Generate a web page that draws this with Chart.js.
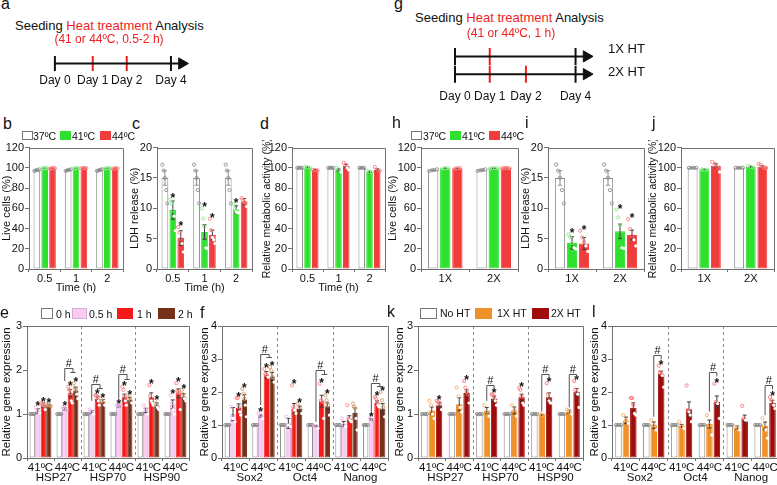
<!DOCTYPE html>
<html>
<head>
<meta charset="utf-8">
<script src="https://cdn.jsdelivr.net/npm/chart.js@4.4.1/dist/chart.umd.min.js"></script>
<style>
  html, body { margin: 0; padding: 0; background: #fff; }
  body { width: 777px; height: 485px; overflow: hidden; position: relative;
         font-family: "Liberation Sans", Arial, sans-serif; color: #111; }
  canvas, .t, .sw { position: absolute; }
  .t { white-space: nowrap; line-height: 1; }
  .sw { box-sizing: border-box; }
</style>
</head>
<body>
<canvas id="chartA"></canvas>
<canvas id="chartG"></canvas>
<canvas id="chartB"></canvas>
<canvas id="chartC"></canvas>
<canvas id="chartD"></canvas>
<canvas id="chartH"></canvas>
<canvas id="chartI"></canvas>
<canvas id="chartJ"></canvas>
<canvas id="chartE"></canvas>
<canvas id="chartF"></canvas>
<canvas id="chartK"></canvas>
<canvas id="chartL"></canvas>
<script>
// ---------------- data ----------------
const timeLabels = ['0.5', '1', '2'];
const htLabels = ['1X', '2X'];
const tempNames = ['37ºC', '41ºC', '44ºC'];
const durationNames = ['0 h', '0.5 h', '1 h', '2 h'];
const htNames = ['No HT', '1X HT', '2X HT'];
const tempTicks = ['41ºC', '44ºC', '41ºC', '44ºC', '41ºC', '44ºC'];
const hspGenes = ['HSP27', 'HSP70', 'HSP90'];
const stemGenes = ['Sox2', 'Oct4', 'Nanog'];

// schematics (a, g): day marks along the time line, drawing units
const dayLabels = ['Day 0', 'Day 1', 'Day 2', 'Day 4'];
const heatDay = [0, 1, 1, 0];
const dayPosA = [0, 1, 1.9, 3.07];
const dayPosG = [0, 0.98, 2.0, 3.4];
const daysOnce = [0, 1, 3];
const daysTwice = [0, 1, 2, 3];

// b: live cells (%), per temperature, at 0.5 / 1 / 2 h
const liveT = [[97.5, 97.8, 97.6], [99.6, 99.4, 99.5], [99.5, 99.7, 99.3]];
const liveTErr = [[0.6, 0.5, 0.6], [0.3, 0.4, 0.3], [0.3, 0.3, 0.4]];
const liveTPts = [
  [[97, 97.5, 98, 98.5], [97, 97.5, 98, 98.5], [97, 97.5, 98, 98.5]],
  [[99.3, 99.6, 99.8, 99.5], [99, 99.4, 99.8, 99.5], [99.2, 99.6, 99.8, 99.4]],
  [[99.2, 99.6, 99.8, 99.5], [99.4, 99.7, 99.9, 99.6], [99, 99.3, 99.6, 99.4]]
];
// c: LDH release (%)
const ldhT = [[15, 15, 15], [9.7, 6.1, 9.8], [5.1, 5.6, 11.1]];
const ldhTErr = [[1.2, 1.2, 1.2], [1.5, 1.2, 0.6], [1.2, 0.8, 0.5]];
const ldhTPts = [
  [[17.2, 16.2, 15, 13, 10.8], [17.2, 16.2, 15, 13, 10.8], [17.2, 16.2, 15, 13, 10.8]],
  [[11.5, 10.8, 9.6, 8.7, 6.3], [10, 8.3, 7, 3.5, 3.4], [10.7, 9.9, 9.4, 9.3, 9.3]],
  [[6.9, 6, 5, 4.2, 2.8], [8.3, 6.4, 5.2, 4.8, 4.2], [11.7, 11.4, 11, 10.9, 10.3]]
];
const ldhTStars = [[0, 0, 0], [1, 1, 1], [1, 1, 0]];
// d: relative metabolic activity (%)
const metaT = [[100, 100, 100], [100.5, 98, 96], [98, 102, 98]];
const metaTErr = [[0.2, 0.2, 0.2], [0.5, 1, 0.8], [0.3, 1.5, 1.2]];
const metaTPts = [
  [[100, 100, 100, 100], [100, 100, 100, 100], [100, 100, 100, 100]],
  [[101, 100.5, 100], [100, 99, 96], [97, 96, 95.5]],
  [[98, 98, 97.5], [105, 103, 100, 98], [101, 98, 97]]
];
// h, i, j: same read-outs after 1X / 2X heat treatment
const liveH = [[97.5, 97.6], [99.6, 99.5], [99.5, 99.6]];
const liveHErr = [[0.6, 0.6], [0.3, 0.3], [0.3, 0.3]];
const liveHPts = [
  [[97, 97.5, 98, 98.5], [97, 97.5, 98, 98.5]],
  [[99.3, 99.6, 99.8], [99.2, 99.6, 99.8, 99.5]],
  [[99.2, 99.6, 99.8], [99.4, 99.7, 99.9, 99.6, 99.3]]
];
const ldhH = [[15, 15], [4.3, 6.2], [4.2, 5.6]];
const ldhHErr = [[1.2, 1.2], [1.0, 1.2], [1.0, 0.8]];
const ldhHPts = [
  [[17.2, 16.2, 15, 13, 10.8], [17.2, 16.2, 15, 13, 10.8]],
  [[5.7, 5.3, 4.3, 3.5, 3.3], [9.8, 8.5, 7.2, 3.5, 3.4]],
  [[6.3, 5.2, 4.5, 3.8, 2.9], [8.2, 6.6, 5.5, 4.8, 3.8]]
];
const ldhHStars = [[0, 0], [1, 1], [1, 1]];
const metaH = [[100, 100], [98.5, 101], [102, 101]];
const metaHErr = [[0.2, 0.2], [0.3, 0.5], [2, 1.2]];
const metaHPts = [
  [[100, 100, 100, 100], [100, 100, 100, 100]],
  [[98.5, 98, 98.2], [102, 101, 100.5]],
  [[106, 104, 101, 96], [104, 103, 101, 100, 100]]
];

// e: HSP expression after 0 / 0.5 / 1 / 2 h heating
const hspDur = [
  [1, 1, 1, 1, 1, 1],
  [1.07, 1.12, 1.05, 1.18, 1.08, 1.22],
  [1.2, 1.47, 1.35, 1.38, 1.38, 1.47],
  [1.2, 1.53, 1.28, 1.33, 1.2, 1.4]
];
const hspDurErr = [
  [0, 0, 0, 0, 0, 0],
  [0.05, 0.03, 0.03, 0.02, 0.05, 0.1],
  [0.05, 0.08, 0.05, 0.07, 0.1, 0.1],
  [0.02, 0.08, 0.05, 0.04, 0.05, 0.06]
];
const hspDurStars = [[0, 0, 0, 0, 0, 0], [1, 1, 0, 1, 0, 1], [1, 1, 1, 1, 1, 1], [1, 1, 1, 1, 1, 1]];
const hspDurPts = [
  [[1, 1, 1, 1], [1, 1, 1, 1], [1, 1, 1, 1], [1, 1, 1, 1], [1, 1, 1, 1], [1, 1, 1, 1]],
  [[1.15, 1.08, 1.02], [1.15, 1.12, 1.1], [1.1, 1.05, 1.0], [1.2, 1.2, 1.18], [1.2, 1.1, 1.0], [1.43, 1.25, 1.1, 1.0]],
  [[1.25, 1.22, 1.2, 1.18, 1.1], [1.62, 1.55, 1.47, 1.3, 1.25], [1.43, 1.42, 1.4, 1.3, 1.2],
   [1.62, 1.55, 1.42, 1.3, 1.2], [1.66, 1.42, 1.3, 1.25, 1.2], [1.7, 1.52, 1.5, 1.48, 1.1]],
  [[1.22, 1.2, 1.2, 1.18], [1.7, 1.6, 1.55, 1.45, 1.35], [1.35, 1.3, 1.25, 1.2],
   [1.42, 1.38, 1.3, 1.25], [1.3, 1.2, 1.15, 1.1], [1.55, 1.45, 1.35, 1.3]]
];
// '#' comparisons: category, left bar, right bar(s), bracket levels
const hspDurMarks = [
  { cat: 1, from: 1, to: [2, 3], top: 2.05, fromLow: 1.75, toLow: 1.95 },
  { cat: 2, from: 1, to: [2, 3], top: 1.68, fromLow: 1.3, toLow: 1.6 },
  { cat: 3, from: 1, to: [2, 3], top: 1.9, fromLow: 1.35, toLow: 1.8 }
];

// f: stemness genes, same design
const stemDur = [
  [1, 1, 1, 1, 1, 1],
  [1.33, 1.27, 1.05, 0.97, 1.03, 1.17],
  [1.52, 2.52, 1.5, 1.72, 1.2, 1.68],
  [1.77, 2.47, 1.5, 1.57, 1.37, 1.5]
];
const stemDurErr = [
  [0, 0, 0, 0, 0, 0],
  [0.2, 0.03, 0.15, 0.02, 0.08, 0.02],
  [0.12, 0.1, 0.15, 0.18, 0.08, 0.06],
  [0.15, 0.12, 0.07, 0.1, 0.15, 0.15]
];
const stemDurStars = [[0, 0, 0, 0, 0, 0], [0, 1, 0, 0, 0, 1], [1, 1, 1, 1, 0, 1], [1, 1, 1, 1, 0, 1]];
const stemDurPts = [
  [[1, 1, 1, 1], [1, 1, 1, 1], [1, 1, 1, 1], [1, 1, 1, 1], [1, 1, 1, 1], [1, 1, 1, 1]],
  [[1.55, 1.2, 1.1], [1.35, 1.3, 1.2], [1.25, 1.0, 0.95], [0.98, 0.95, 0.9], [1.2, 1.0, 0.95], [1.2, 1.15]],
  [[1.82, 1.82, 1.55, 1.4, 1.3], [2.7, 2.55, 2.52, 2.5, 2.45], [2.2, 1.55, 1.45, 1.35],
   [2.25, 1.75, 1.7, 1.2], [1.6, 1.2, 1.15, 1.1], [1.85, 1.8, 1.7, 1.6, 1.55]],
  [[2.1, 1.95, 1.8, 1.6, 1.25], [2.75, 2.65, 2.45, 2.3], [1.65, 1.55, 1.35],
   [1.9, 1.75, 1.6, 1.3], [1.65, 1.55, 1.5, 1.2, 0.85], [2.0, 1.75, 1.55, 1.25]]
];
const stemDurMarks = [
  { cat: 1, from: 1, to: [2, 3], top: 3.15, fromLow: 1.6, toLow: 3.05 },
  { cat: 3, from: 1, to: [2, 3], top: 2.67, fromLow: 1.1, toLow: 2.55 },
  { cat: 5, from: 1, to: [2, 3], top: 2.27, fromLow: 1.4, toLow: 2.17 }
];

// k: HSP expression after 1X / 2X heat treatment
const hspHT = [
  [1, 1, 1, 1, 1, 1],
  [1.08, 1.22, 1.08, 1.08, 0.98, 1.05],
  [1.2, 1.48, 1.35, 1.38, 1.38, 1.5]
];
const hspHTErr = [
  [0, 0, 0, 0, 0, 0],
  [0.08, 0.15, 0.07, 0.08, 0.01, 0.04],
  [0.05, 0.07, 0.05, 0.07, 0.1, 0.08]
];
const hspHTStars = [[0, 0, 0, 0, 0, 0], [0, 0, 0, 0, 0, 0], [1, 1, 1, 1, 1, 1]];
const hspHTPts = [
  [[1, 1, 1, 1], [1, 1, 1, 1], [1, 1, 1, 1], [1, 1, 1, 1], [1, 1, 1, 1], [1, 1, 1, 1]],
  [[1.3, 1.2, 1.0, 0.9], [1.6, 1.4, 1.15, 1.05], [1.2, 1.05, 0.95], [1.2, 1.1, 0.95], [1.0, 0.98, 0.97], [1.1, 1.05, 1.0]],
  [[1.3, 1.27, 1.25, 1.1], [1.75, 1.6, 1.5, 1.45, 1.25], [1.45, 1.43, 1.4, 1.3, 1.2],
   [1.6, 1.55, 1.4, 1.25, 1.2], [1.7, 1.45, 1.3, 1.25, 1.25], [1.75, 1.55, 1.5, 1.45, 1.15]]
];
const hspHTMarks = [
  { cat: 2, from: 1, to: [2], top: 1.66, fromLow: 1.3, toLow: 1.6 },
  { cat: 4, from: 1, to: [2], top: 1.9, fromLow: 1.05, toLow: 1.84 },
  { cat: 5, from: 1, to: [2], top: 1.9, fromLow: 1.15, toLow: 1.84 }
];

// l: stemness genes after 1X / 2X heat treatment
const stemHT = [
  [1, 1, 1, 1, 1, 1],
  [1.14, 0.99, 0.97, 1.03, 0.92, 0.97],
  [1.52, 2.55, 1.48, 1.7, 1.2, 1.67]
];
const stemHTErr = [
  [0, 0, 0, 0, 0, 0],
  [0.1, 0.1, 0.05, 0.12, 0.05, 0.12],
  [0.15, 0.08, 0.22, 0.18, 0.1, 0.08]
];
const stemHTStars = [[0, 0, 0, 0, 0, 0], [0, 0, 0, 0, 0, 0], [0, 1, 0, 1, 0, 1]];
const stemHTPts = [
  [[1, 1, 1, 1], [1, 1, 1, 1], [1, 1, 1, 1], [1, 1, 1, 1], [1, 1, 1, 1], [1, 1, 1, 1]],
  [[1.3, 1.15, 1.05], [1.15, 1.0, 0.85], [1.1, 0.95, 0.9], [1.3, 1.0, 0.7], [0.95, 0.9, 0.85], [1.2, 1.0, 0.85, 0.6]],
  [[1.82, 1.82, 1.6, 1.35, 1.3], [2.8, 2.6, 2.55, 2.5, 2.15], [2.2, 1.45, 1.4, 1.3, 1.1],
   [2.25, 1.7, 1.65, 1.2], [1.58, 1.2, 1.15, 1.15], [1.85, 1.75, 1.65, 1.6, 1.5]]
];
const stemHTMarks = [
  { cat: 1, from: 1, to: [2], top: 3.12, fromLow: 1.25, toLow: 3.0 },
  { cat: 3, from: 1, to: [2], top: 2.6, fromLow: 1.4, toLow: 2.5 },
  { cat: 5, from: 1, to: [2], top: 2.2, fromLow: 1.3, toLow: 2.1 }
];

// ---------------- styles ----------------
const AXIS = '#707070';
const RED_TEXT = '#f01e1e';
const tempColors = ['#ffffff', '#2fe02f', '#f03c3c'];
const tempEdges = ['#8c8c8c', '#2fe02f', '#f03c3c'];
const tempPtColors = ['#8c8c8c', '#86ec86', '#ff7b7b'];
const durColors = ['#ffffff', '#f9ccf3', '#f51a1a', '#74301a'];
const durEdges = ['#8c8c8c', '#d9aad2', '#f51a1a', '#74301a'];
const durPtColors = ['#8c8c8c', '#eeb2e8', '#ff7f7f', '#d09a6a'];
const htColors = ['#ffffff', '#f0902b', '#9e0c0c'];
const htEdges = ['#8c8c8c', '#f0902b', '#9e0c0c'];
const htPtColors = ['#8c8c8c', '#f5b06a', '#ff7070'];

Chart.defaults.font.family = '"Liberation Sans", Arial, sans-serif';
Chart.defaults.font.size = 11;
Chart.defaults.color = '#111';
Chart.defaults.animation = false;
Chart.defaults.events = [];
Chart.defaults.plugins.legend.display = false;
Chart.defaults.plugins.tooltip.enabled = false;

function place(id, box) {
  const cv = document.getElementById(id);
  cv.width = box.w;
  cv.height = box.h;
  cv.style.left = box.left + 'px';
  cv.style.top = box.top + 'px';
  return cv;
}

// error bars, replicate points, stars, '#' brackets, gene separators, frame
function extrasPlugin(spec) {
  return {
    id: 'extras',
    beforeDatasetsDraw(chart) {
      if (!spec.separators) return;
      const { ctx, chartArea: a } = chart;
      const x = chart.scales.x;
      ctx.save();
      ctx.strokeStyle = '#8a8a8a';
      ctx.lineWidth = 1;
      ctx.setLineDash([3, 3]);
      for (let c = 2; c < chart.data.labels.length; c += 2) {
        const px = Math.round((x.getPixelForValue(c - 1) + x.getPixelForValue(c)) / 2) + 0.5;
        ctx.beginPath();
        ctx.moveTo(px, a.top);
        ctx.lineTo(px, a.bottom);
        ctx.stroke();
      }
      ctx.restore();
    },
    afterDatasetsDraw(chart) {
      const ctx = chart.ctx;
      const y = chart.scales.y;
      const span = y.max - y.min;
      ctx.save();
      chart.data.datasets.forEach((ds, di) => {
        chart.getDatasetMeta(di).data.forEach((bar, i) => {
          const v = ds.data[i];
          const e = ds.errVals[i];
          const cx = bar.x;
          if (e > 0) {
            const yt = y.getPixelForValue(v + e), yb = y.getPixelForValue(v - e);
            ctx.strokeStyle = ds.errColor;
            ctx.lineWidth = 1;
            ctx.beginPath();
            ctx.moveTo(cx, yt); ctx.lineTo(cx, yb);
            ctx.moveTo(cx - 2, yt); ctx.lineTo(cx + 2, yt);
            ctx.moveTo(cx - 2, yb); ctx.lineTo(cx + 2, yb);
            ctx.stroke();
          }
          const pts = ds.ptVals[i];
          const n = pts.length;
          const spread = Math.min(bar.width * 0.75, (n - 1) * 2.6);
          pts.forEach((p, j) => {
            const px = n > 1 ? cx - spread / 2 + spread * j / (n - 1) : cx;
            const py = y.getPixelForValue(p);
            const inside = ds.filled && p < v - span * 0.012;
            ctx.beginPath();
            ctx.arc(px, py, 1.6, 0, Math.PI * 2);
            if (inside) {
              ctx.fillStyle = '#ffffff';
              ctx.fill();
            } else {
              ctx.strokeStyle = ds.ptColor;
              ctx.lineWidth = 0.9;
              ctx.stroke();
            }
          });
          if (ds.starFlags && ds.starFlags[i]) {
            const topVal = Math.max(v + e, ...pts);
            ctx.fillStyle = '#111';
            ctx.font = 'bold 12px "Liberation Sans"';
            ctx.textAlign = 'center';
            ctx.textBaseline = 'alphabetic';
            ctx.fillText('*', cx, y.getPixelForValue(topVal) + 3);
          }
        });
      });
      (spec.marks || []).forEach(b => {
        const barAt = k => chart.getDatasetMeta(k).data[b.cat];
        const xa = barAt(b.from).x;
        const xbs = b.to.map(k => barAt(k).x);
        const xb = (xbs[0] + xbs[xbs.length - 1]) / 2;
        const yt = Math.round(y.getPixelForValue(b.top)) + 0.5;
        const ya = y.getPixelForValue(b.fromLow);
        const yb = Math.round(y.getPixelForValue(b.toLow)) + 0.5;
        ctx.strokeStyle = '#555';
        ctx.lineWidth = 1;
        ctx.beginPath();
        ctx.moveTo(xa, ya); ctx.lineTo(xa, yt); ctx.lineTo(xb, yt); ctx.lineTo(xb, yb);
        if (xbs.length > 1) { ctx.moveTo(xbs[0], yb); ctx.lineTo(xbs[xbs.length - 1], yb); }
        ctx.stroke();
        ctx.fillStyle = '#111';
        ctx.font = '11px "Liberation Sans"';
        ctx.textAlign = 'center';
        ctx.textBaseline = 'alphabetic';
        ctx.fillText('#', (xa + xb) / 2, yt - 2);
      });
      ctx.restore();
    },
    afterDraw(chart) {
      const { ctx, chartArea: a } = chart;
      ctx.save();
      ctx.strokeStyle = AXIS;
      ctx.lineWidth = 1;
      ctx.beginPath();
      ctx.moveTo(a.left, Math.round(a.top) + 0.5);
      ctx.lineTo(Math.round(a.right) + 0.5, Math.round(a.top) + 0.5);
      ctx.lineTo(Math.round(a.right) + 0.5, a.bottom);
      ctx.stroke();
      ctx.restore();
    }
  };
}

function barChart(id, box, spec) {
  const cv = place(id, box);
  const titleSize = spec.yTitleSize || 11;
  const datasets = spec.values.map((vals, i) => ({
    label: spec.names[i],
    data: vals,
    backgroundColor: spec.colors[i],
    borderColor: spec.edges[i],
    borderWidth: 1,
    borderSkipped: false,
    categoryPercentage: spec.catPct,
    barPercentage: spec.barPct,
    errVals: spec.errors[i],
    ptVals: spec.points[i],
    starFlags: spec.stars ? spec.stars[i] : null,
    ptColor: spec.ptColors[i],
    errColor: i === 0 ? '#8c8c8c' : '#3c3c3c',
    filled: i !== 0
  }));
  const scales = {
    x: {
      grid: { drawOnChartArea: false, tickLength: 3, color: AXIS },
      border: { color: AXIS },
      ticks: { padding: 0, maxRotation: 0, autoSkip: false, font: { size: spec.xFont || 11 } },
      title: spec.xTitle ? { display: true, text: spec.xTitle, padding: 0 } : { display: false },
      afterFit: s => { s.height = box.xH; }
    },
    y: {
      min: 0, max: spec.yMax,
      ticks: { stepSize: spec.yStep, padding: 1 },
      grid: { drawOnChartArea: false, tickLength: 4, color: AXIS },
      border: { color: AXIS },
      title: { display: true, text: spec.yTitle, font: { size: titleSize },
               padding: { top: box.titleX - box.left - titleSize * 0.6, bottom: 0 } },
      afterFit: s => { s.width = box.yW; }
    }
  };
  if (spec.groups) {
    scales.x2 = {
      type: 'category', labels: spec.groups, offset: true, position: 'bottom', weight: 1,
      grid: { display: false, drawTicks: false }, border: { display: false },
      ticks: { padding: 0, maxRotation: 0, autoSkip: false, font: { size: spec.xFont || 11 } },
      afterFit: s => { s.height = box.x2H; }
    };
  }
  return new Chart(cv, {
    type: 'bar',
    data: { labels: spec.labels, datasets },
    options: {
      responsive: false,
      layout: { padding: { top: box.padTop, right: box.padRight, left: 0, bottom: 0 } },
      scales
    },
    plugins: [extrasPlugin(spec)]
  });
}

function timeline(id, box, spec) {
  const cv = place(id, box);
  const datasets = [];
  spec.lines.forEach(ln => {
    datasets.push({ data: [{ x: 0, y: ln.y }, { x: spec.lineEnd, y: ln.y }], showLine: true,
                    borderColor: '#111', borderWidth: 2, pointRadius: 0 });
    datasets.push({ data: [{ x: spec.arrow, y: ln.y }], pointStyle: 'triangle', pointRotation: 90,
                    pointRadius: 6.5, pointBackgroundColor: '#111', pointBorderColor: '#111', pointBorderWidth: 1 });
    datasets.push({ data: ln.days.map(d => ({ x: spec.pos[d], y: ln.y })), pointStyle: 'line',
                    pointRotation: 90, pointRadius: ln.tick, pointBorderWidth: 2,
                    pointBorderColor: ln.days.map(d => heatDay[d] ? RED_TEXT : '#111') });
  });
  return new Chart(cv, {
    type: 'scatter',
    data: { datasets },
    options: {
      responsive: false,
      layout: { padding: 0 },
      scales: {
        x: {
          type: 'linear', min: spec.xMin, max: spec.xMax,
          grid: { display: false, drawTicks: false }, border: { display: false },
          afterBuildTicks: s => { s.ticks = spec.pos.map(v => ({ value: v })); },
          ticks: { padding: spec.labelPad, font: { size: 12 }, maxRotation: 0, autoSkip: false,
                   callback: (v, i) => dayLabels[i] },
          afterFit: s => { s.height = box.xH; }
        },
        y: { display: false, min: spec.yMin, max: spec.yMax }
      }
    }
  });
}

// ---------------- schematics ----------------
timeline('chartA', { left: 25, top: 45, w: 177, h: 45, xH: 19 }, {
  pos: dayPosA, xMin: -0.5, xMax: 3.6, yMin: -1, yMax: 1, lineEnd: 3.3, arrow: 3.36, labelPad: 2,
  lines: [{ y: 0, days: daysTwice, tick: 9 }]
});
timeline('chartG', { left: 425, top: 37, w: 185, h: 66, xH: 20 }, {
  pos: dayPosG, xMin: -0.55, xMax: 4.075, yMin: -0.5, yMax: 1.5, lineEnd: 3.65, arrow: 3.71, labelPad: 6,
  lines: [{ y: 1, days: daysOnce, tick: 8.5 }, { y: 0, days: daysTwice, tick: 8.5 }]
});

// ---------------- bar panels ----------------
const tempSpec = { names: tempNames, colors: tempColors, edges: tempEdges, ptColors: tempPtColors,
                   catPct: 0.75, barPct: 0.85 };
const rowBox = { top: 140, h: 155, xH: 26, padTop: 7, padRight: 3 };
barChart('chartB', Object.assign({}, rowBox, { left: 0, w: 126, yW: 29, titleX: 7 }),
  Object.assign({}, tempSpec, { labels: timeLabels, values: liveT, errors: liveTErr, points: liveTPts,
    yMax: 120, yStep: 20, yTitle: 'Live cells (%)', xTitle: 'Time (h)' }));
barChart('chartC', Object.assign({}, rowBox, { left: 128, w: 130, yW: 29, padRight: 6, titleX: 135 }),
  Object.assign({}, tempSpec, { labels: timeLabels, values: ldhT, errors: ldhTErr, points: ldhTPts, stars: ldhTStars,
    yMax: 20, yStep: 5, yTitle: 'LDH release (%)', xTitle: 'Time (h)' }));
barChart('chartD', Object.assign({}, rowBox, { left: 258, w: 130, yW: 34, titleX: 267 }),
  Object.assign({}, tempSpec, { labels: timeLabels, values: metaT, errors: metaTErr, points: metaTPts,
    yMax: 120, yStep: 20, yTitle: 'Relative metabolic activity (%)', yTitleSize: 10.5, xTitle: 'Time (h)' }));
barChart('chartH', Object.assign({}, rowBox, { left: 386, w: 135, yW: 35, titleX: 393 }),
  Object.assign({}, tempSpec, { labels: htLabels, values: liveH, errors: liveHErr, points: liveHPts,
    yMax: 120, yStep: 20, yTitle: 'Live cells (%)' }));
barChart('chartI', Object.assign({}, rowBox, { left: 521, w: 126, yW: 27, titleX: 526 }),
  Object.assign({}, tempSpec, { labels: htLabels, values: ldhH, errors: ldhHErr, points: ldhHPts, stars: ldhHStars,
    yMax: 20, yStep: 5, yTitle: 'LDH release (%)' }));
barChart('chartJ', Object.assign({}, rowBox, { left: 647, w: 130, yW: 34, titleX: 653 }),
  Object.assign({}, tempSpec, { labels: htLabels, values: metaH, errors: metaHErr, points: metaHPts,
    yMax: 120, yStep: 20, yTitle: 'Relative metabolic activity (%)', yTitleSize: 10.5 }));

const geneBox = { top: 318, h: 167, xH: 13, x2H: 14, padTop: 8 };
barChart('chartE', Object.assign({ left: 0, w: 192, yW: 27, padRight: 3, titleX: 7 }, geneBox), {
  labels: tempTicks, groups: hspGenes, names: durationNames, colors: durColors, edges: durEdges, ptColors: durPtColors,
  values: hspDur, errors: hspDurErr, points: hspDurPts, stars: hspDurStars, marks: hspDurMarks, separators: true,
  catPct: 0.82, barPct: 0.95, yMax: 3, yStep: 1, yTitle: 'Relative gene expression', yTitleSize: 11.5, xFont: 11.5 });
barChart('chartF', Object.assign({ left: 190, w: 200, yW: 32, padRight: 2, titleX: 205 }, geneBox), {
  labels: tempTicks, groups: stemGenes, names: durationNames, colors: durColors, edges: durEdges, ptColors: durPtColors,
  values: stemDur, errors: stemDurErr, points: stemDurPts, stars: stemDurStars, marks: stemDurMarks, separators: true,
  catPct: 0.82, barPct: 0.95, yMax: 4, yStep: 1, yTitle: 'Relative gene expression', yTitleSize: 11.5, xFont: 11.5 });
barChart('chartK', Object.assign({ left: 390, w: 196, yW: 28, padRight: 3, titleX: 400 }, geneBox), {
  labels: tempTicks, groups: hspGenes, names: htNames, colors: htColors, edges: htEdges, ptColors: htPtColors,
  values: hspHT, errors: hspHTErr, points: hspHTPts, stars: hspHTStars, marks: hspHTMarks, separators: true,
  catPct: 0.8, barPct: 0.88, yMax: 3, yStep: 1, yTitle: 'Relative gene expression', yTitleSize: 11.5, xFont: 11.5 });
barChart('chartL', Object.assign({ left: 586, w: 196, yW: 26, padRight: 3, titleX: 595 }, geneBox), {
  labels: tempTicks, groups: stemGenes, names: htNames, colors: htColors, edges: htEdges, ptColors: htPtColors,
  values: stemHT, errors: stemHTErr, points: stemHTPts, stars: stemHTStars, marks: stemHTMarks, separators: true,
  catPct: 0.8, barPct: 0.88, yMax: 4, yStep: 1, yTitle: 'Relative gene expression', yTitleSize: 11.5, xFont: 11.5 });

// ---------------- text: panel letters, captions, legends ----------------
function addText(parts, left, baseline, size, center) {
  const d = document.createElement('div');
  d.className = 't';
  d.style.fontSize = size + 'px';
  d.style.left = left + 'px';
  d.style.top = (baseline - 0.846 * size) + 'px';
  if (center) d.style.transform = 'translateX(-50%)';
  parts.forEach(([txt, color]) => {
    const s = document.createElement('span');
    s.textContent = txt;
    if (color) s.style.color = color;
    d.appendChild(s);
  });
  document.body.appendChild(d);
}
function addSwatch(left, top, w, h, fill, edge) {
  const d = document.createElement('div');
  d.className = 'sw';
  Object.assign(d.style, { left: left + 'px', top: top + 'px', width: w + 'px', height: h + 'px',
                           background: fill, border: '1px solid ' + edge });
  document.body.appendChild(d);
}
function addLegend(names, colors, edges, boxLefts, boxWidths, textLefts, boxTop, boxH, baseline) {
  names.forEach((n, i) => {
    addSwatch(boxLefts[i], boxTop, boxWidths[i], boxH, colors[i], i === 0 ? '#777' : edges[i]);
    addText([[n]], textLefts[i], baseline, 10.5);
  });
}

[['a', 1, 10], ['b', 3, 130], ['c', 132, 130], ['d', 260, 130], ['e', 0, 319], ['f', 200, 319],
 ['g', 394, 9.5], ['h', 392, 129], ['i', 525, 129], ['j', 652, 129], ['k', 387, 318], ['l', 592, 318]]
  .forEach(([l, x, b]) => addText([[l]], x, b, 16));

addText([['Seeding '], ['Heat treatment', RED_TEXT], [' Analysis']], 15, 30, 13);
addText([['(41 or 44ºC, 0.5-2 h)', RED_TEXT]], 109, 42.7, 12, true);
addText([['Seeding '], ['Heat treatment', RED_TEXT], [' Analysis']], 415, 22.3, 13);
addText([['(41 or 44ºC, 1 h)', RED_TEXT]], 511, 37.3, 12, true);
addText([['1X HT']], 608, 53, 13);
addText([['2X HT']], 608, 76, 13);

addLegend(tempNames, tempColors, tempEdges, [22, 60, 100], [11, 11, 11], [33, 72, 112], 131, 9, 139.5);
addLegend(tempNames, tempColors, tempEdges, [411, 450, 489], [11, 11, 11], [423, 462, 501], 131, 9, 139.5);
addLegend(durationNames, durColors, durEdges, [41, 72, 117, 158], [12, 15, 16, 17], [56, 89, 137, 178], 308, 11, 317.7);
addLegend(htNames, htColors, htEdges, [420, 475, 532], [17, 17, 17], [440, 497, 551], 308, 11, 317);
</script>
</body>
</html>
